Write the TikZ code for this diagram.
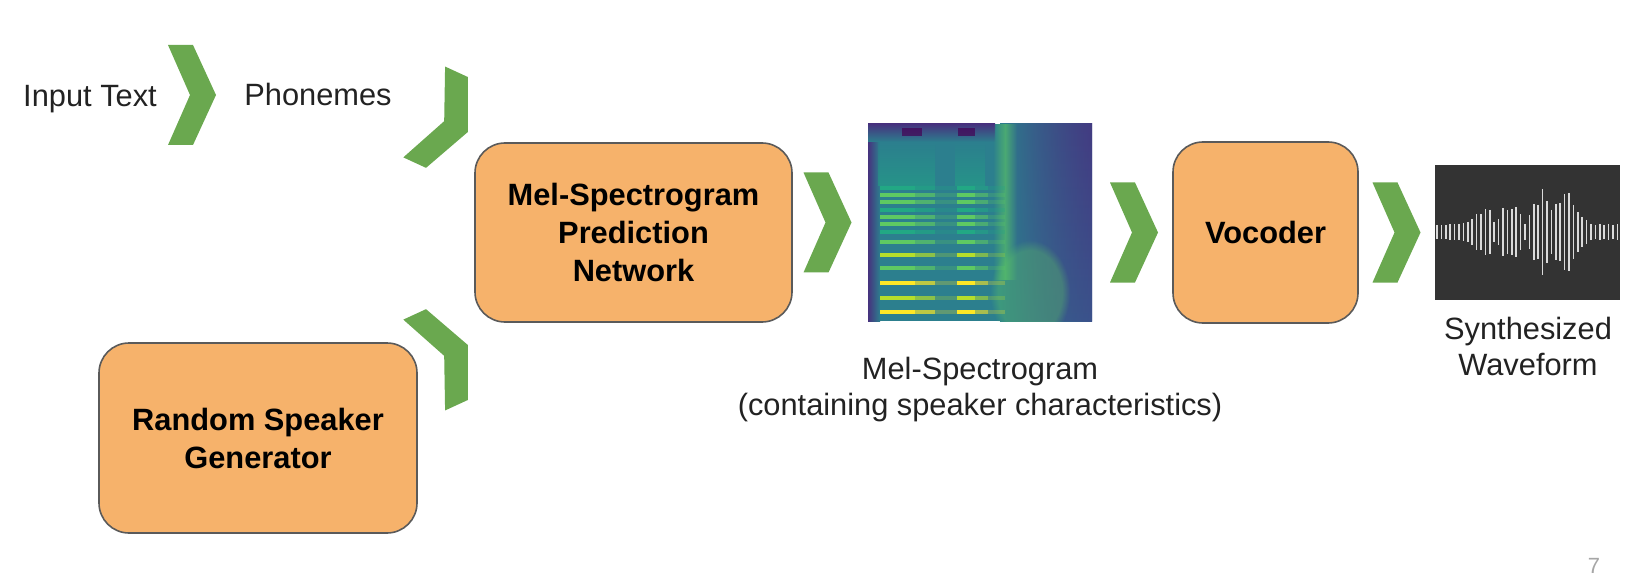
\documentclass[tikz,border=0pt]{standalone}
\usepackage{fontspec}
\setmainfont{Liberation Sans}
\usetikzlibrary{calc,fadings}
\definecolor{boxorange}{HTML}{F6B26B}
\definecolor{boxline}{HTML}{5A5A5A}
\definecolor{chevgreen}{HTML}{6AA84F}
\definecolor{wavebg}{HTML}{333333}
\definecolor{wavebar}{HTML}{DADADA}
\definecolor{txt}{HTML}{222222}
% viridis-like colours for the spectrogram
\definecolor{virA}{HTML}{440154}
\definecolor{virB}{HTML}{46327E}
\definecolor{virC}{HTML}{3B528B}
\definecolor{virD}{HTML}{2C7F8E}
\definecolor{virE}{HTML}{22A884}
\definecolor{virF}{HTML}{5EC962}
\definecolor{virG}{HTML}{B5DE2B}
\definecolor{virH}{HTML}{FDE725}
\tikzfading[name=fade sides, left color=transparent!100,
    right color=transparent!100, middle color=transparent!0]
% green chevron, centred at (#2,#3), turned by #1
\newcommand\Chevron[3][0]{%
    \fill[chev, shift={(#2,#3)}, rotate=#1]
        (-24,-50) -- (1,-50) -- (24,0) -- (1,50) -- (-24,50) -- (-2,0) -- cycle;
}

\begin{document}
\begin{tikzpicture}[x=0.5pt, y=-0.5pt,
        chev/.style={fill=chevgreen},
        stage/.style={draw=boxline, line width=0.8pt, fill=boxorange,
            rounded corners=15pt, align=center, text=black,
            font=\fontsize{15.4}{19}\selectfont\bfseries},
        label text/.style={text=txt, align=center, inner sep=0pt,
            font=\fontsize{15.4}{18}\selectfont},
        harmonic/.style={line width=2pt}%
    ]
    \useasboundingbox (0,0) rectangle (1632,577);
    %% texts on the top row
    \node[label text, anchor=base] (intext) at (90,107) {Input Text};
    \node[label text, anchor=base] (phon) at (318,106) {Phonemes};
    %% the three stages
    \node[stage, minimum width=158.5pt, minimum height=89.5pt] (melnet)
        at (633.5,232.5) {Mel-Spectrogram\\Prediction\\Network};
    \node[stage, minimum width=159pt, minimum height=95pt] (rsg)
        at (258,438) {Random Speaker\\Generator};
    \node[stage, minimum width=92.5pt, minimum height=90.5pt] (voc)
        at (1265.5,232.5) {Vocoder};
    %% chevrons
    \Chevron{192}{95}
    \Chevron[-24.7]{446}{122}
    \Chevron[24.7]{446}{355}
    \Chevron{827.5}{222.5}
    \Chevron{1134}{232.5}
    \Chevron{1396.5}{232.5}
    %% spectrogram
    \node[minimum width=112pt, minimum height=98.5pt, inner sep=0pt] (spec) at (980,222.5) {};
    \begin{scope}
        \clip (868,124) rectangle (1092,321);
        \fill[virD] (868,124) rectangle (1000,321);
        \shade[left color=virD, right color=virC] (1000,124) rectangle (1092,321);
        \shade[top color=virB, bottom color=virC, opacity=0.7, path fading=west]
            (1000,124) rectangle (1092,321);
        \shade[left color=virB, right color=virD] (868,124) rectangle (880,321);
        \shade[top color=virB, bottom color=virD] (868,124) rectangle (995,142);
        \fill[virA, opacity=0.7] (902,128) rectangle (922,136);
        \fill[virA, opacity=0.7] (958,128) rectangle (975,136);
        \shade[top color=virD, bottom color=virE, opacity=0.5] (878,142) rectangle (935,186);
        \shade[top color=virD, bottom color=virE, opacity=0.5] (955,142) rectangle (985,186);
        % vertical smear
        \fill[virF, opacity=0.6, path fading=fade sides] (993,124) rectangle (1017,280);
        \fill[virF, opacity=0.35, path fading=circle with fuzzy edge 20 percent]
            (990,240) rectangle (1070,345);
        % harmonics
        \foreach \yy/\cc in {188/virE, 195/virF, 202/virF, 210/virE, 217/virF,
                224/virF, 232/virE, 242/virF, 255/virG, 268/virF,
                283/virH, 298/virG, 312/virH} {
            \draw[harmonic, \cc] (880,\yy) -- (915,\yy);
            \draw[harmonic, \cc, opacity=0.7] (915,\yy) -- (935,\yy);
            \draw[harmonic, \cc] (957,\yy) -- (975,\yy);
            \draw[harmonic, \cc, opacity=0.6] (975,\yy) -- (988,\yy);
            \draw[harmonic, \cc, opacity=0.25] (935,\yy) -- (957,\yy);
            \draw[harmonic, \cc, opacity=0.25] (988,\yy) -- (1005,\yy);
        }
    \end{scope}
    \node[label text, anchor=base] (speccap) at (980,415)
        {Mel-Spectrogram\\(containing speaker characteristics)};
    %% waveform
    \node[fill=wavebg, minimum width=92.5pt, minimum height=67.5pt, inner sep=0pt]
        (wave) at (1527.5,232.5) {};
    \foreach \h [count=\i from 0] in {7,7,7,8,8,8,9,10,13,18,
            18,23,22,10,13,24,22,23,25,18,
            8,17,28,27,43,31,22,28,29,38,
            39,27,20,15,12,8,7,8,7,8,7,8} {
        \draw[wavebar, line width=0.85pt] ({1437+\i*4.4},{232-\h}) -- ({1437+\i*4.4},{232+\h});
    }
    \node[label text, anchor=base] (wavecap) at (1528,375) {Synthesized\\Waveform};
    %% page number
    \node[text=gray!70, font=\fontsize{11}{13}\selectfont, anchor=base] (pagenum)
        at (1594,573) {7};
\end{tikzpicture}
\end{document}
